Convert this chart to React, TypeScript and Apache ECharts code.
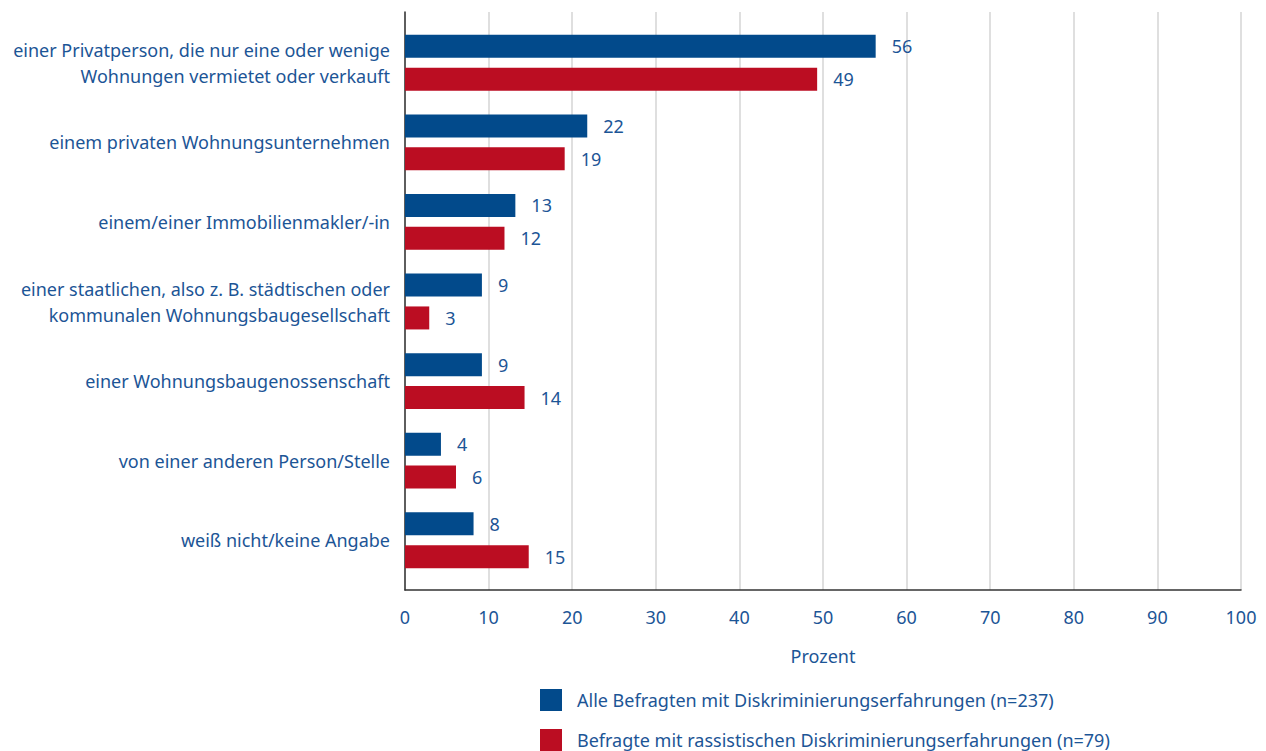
import React, { useEffect, useRef } from "react";
import * as echarts from "echarts";

const categories = [
  "einer Privatperson, die nur eine oder wenige\nWohnungen vermietet oder verkauft",
  "einem privaten Wohnungsunternehmen",
  "einem/einer Immobilienmakler/-in",
  "einer staatlichen, also z. B. städtischen oder\nkommunalen Wohnungsbaugesellschaft",
  "einer Wohnungsbaugenossenschaft",
  "von einer anderen Person/Stelle",
  "weiß nicht/keine Angabe",
];
const seriesNames = [
  "Alle Befragten mit Diskriminierungserfahrungen (n=237)",
  "Befragte mit rassistischen Diskriminierungserfahrungen (n=79)",
];
const allValues = [56.3, 21.8, 13.2, 9.2, 9.2, 4.3, 8.2];
const racistValues = [49.3, 19.1, 11.9, 2.9, 14.3, 6.1, 14.8];
const xTicks = [0, 10, 20, 30, 40, 50, 60, 70, 80, 90, 100];
const axisName = "Prozent";

const BLUE = "#024a8b";
const RED = "#bb0d22";
const TEXT = "#1c5596";
const FONT = "'Noto Sans', 'Open Sans', sans-serif";
const FS = 18;

export default function App() {
  const ref = useRef<HTMLDivElement>(null);
  useEffect(() => {
    if (!ref.current) return;
    const chart = echarts.init(ref.current, null, { renderer: "svg" });
    const labelCommon = {
      show: true,
      position: "right" as const,
      distance: 16,
      color: TEXT,
      fontSize: FS,
      fontFamily: FONT,
      formatter: (p: any) => String(Math.round(p.value)),
    };
    const legendCommon = {
      orient: "vertical" as const,
      left: 540,
      padding: 0,
      itemWidth: 22,
      itemHeight: 22,
      icon: "rect",
      textStyle: { color: TEXT, fontSize: FS, fontFamily: FONT, padding: [0, 0, 0, 10] },
    };
    chart.setOption({
      animation: false,
      textStyle: { fontFamily: FONT },
      grid: [
        { left: 405, right: 25, top: 12, bottom: 161 },
        { left: 405, right: 25, top: 23, bottom: 171 },
      ],
      xAxis: [
        {
          gridIndex: 0,
          type: "value",
          min: xTicks[0],
          max: xTicks[xTicks.length - 1],
          interval: 10,
          axisLine: { show: true, lineStyle: { color: "#333", width: 1.5 } },
          axisTick: { show: false },
          splitLine: { show: true, lineStyle: { color: "#d4d4d4", width: 1.5 } },
          axisLabel: { color: TEXT, fontSize: FS, margin: 18, fontFamily: FONT },
          name: axisName,
          nameLocation: "middle",
          nameGap: 57,
          nameTextStyle: { color: TEXT, fontSize: FS, fontFamily: FONT },
        },
        {
          gridIndex: 1,
          type: "value",
          min: 0,
          max: 100,
          show: false,
        },
      ],
      yAxis: [
        {
          gridIndex: 0,
          type: "category",
          data: categories,
          inverse: true,
          axisLine: { show: true, lineStyle: { color: "#333", width: 1.5 } },
          axisTick: { show: false },
          axisLabel: { show: false },
          splitLine: { show: false },
        },
        {
          gridIndex: 1,
          type: "category",
          data: categories,
          inverse: true,
          axisLine: { show: false },
          axisTick: { show: false },
          splitLine: { show: false },
          axisLabel: {
            color: TEXT,
            fontSize: FS,
            lineHeight: 26,
            margin: 15,
            align: "right",
            fontFamily: FONT,
          },
        },
      ],
      legend: [
        { ...legendCommon, top: 689, data: [seriesNames[0]] },
        { ...legendCommon, top: 729, data: [seriesNames[1]] },
      ],
      series: [
        {
          name: seriesNames[0],
          type: "bar",
          xAxisIndex: 1,
          yAxisIndex: 1,
          data: allValues,
          barWidth: 23,
          barGap: "43%",
          itemStyle: { color: BLUE },
          label: labelCommon,
        },
        {
          name: seriesNames[1],
          type: "bar",
          xAxisIndex: 1,
          yAxisIndex: 1,
          data: racistValues,
          barWidth: 23,
          barGap: "43%",
          itemStyle: { color: RED },
          label: labelCommon,
        },
      ],
    });
    return () => chart.dispose();
  }, []);
  return <div ref={ref} style={{ width: 1266, height: 751, position: "absolute", left: 0, top: 0 }} />;
}
